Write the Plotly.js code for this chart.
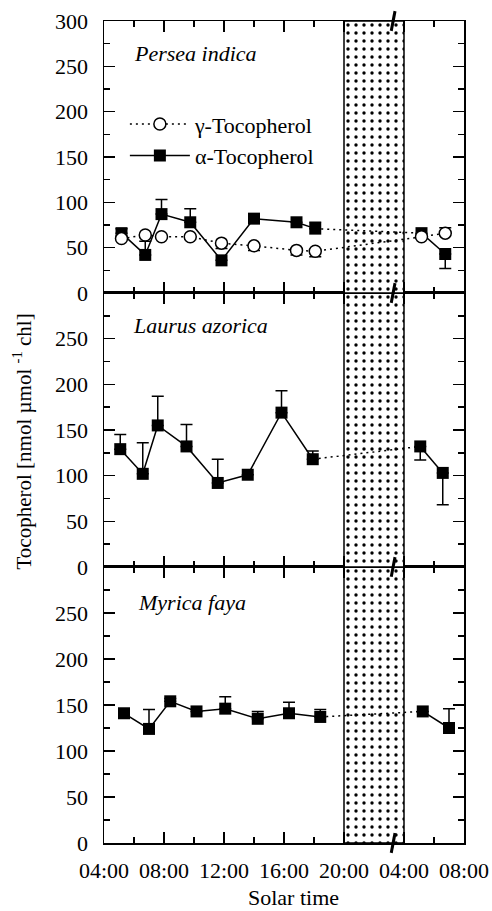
<!DOCTYPE html>
<html><head><meta charset="utf-8">
<script src="https://cdn.plot.ly/plotly-3.0.1.min.js"></script>
<style>html,body{margin:0;padding:0;background:#fff}</style>
</head><body><div id="chart" style="width:492px;height:911px"></div>
<script>
// ---------- data ----------
const xTickVals = [4, 8, 12, 16, 20, 24, 28];
const xTickText = ["04:00", "08:00", "12:00", "16:00", "20:00", "04:00", "08:00"];
const xMinorVals = [6, 10, 14, 18, 26];
const yTickVals = [0, 50, 100, 150, 200, 250, 300];
const yMinorVals = [25, 75, 125, 175, 225, 275];
const night = [20, 24];          // axis positions of 20:00 and the next 04:00
const speciesNames = ["Persea indica", "Laurus azorica", "Myrica faya"];

// Persea indica
const perseaTime = ["05:10","06:45","07:50","09:45","11:50","14:00","16:50","18:05","05:10","06:45"];
const perseaDay  = [1,1,1,1,1,1,1,1,2,2];
const perseaAlpha     = [66, 42, 87, 78, 36, 82, 78, 71, 66, 43];
const perseaAlphaUp   = [5, 15, 16, 15, 0, 0, 0, 7, 0, 0];
const perseaAlphaDown = [0, 0, 0, 0, 0, 0, 0, 0, 0, 16];
const perseaGamma     = [60, 64, 62, 62, 55, 52, 47, 46, 62, 66];
const perseaGammaUp   = [0, 0, 0, 0, 0, 0, 0, 0, 0, 6];
const perseaGammaDown = [0, 0, 0, 3, 6, 5, 5, 6, 0, 0];

// Laurus azorica
const laurusTime = ["05:05","06:35","07:35","09:30","11:35","13:35","15:50","17:55","05:05","06:35"];
const laurusDay  = [1,1,1,1,1,1,1,1,2,2];
const laurusAlpha     = [129, 102, 155, 132, 92, 101, 169, 118, 132, 103];
const laurusAlphaUp   = [16, 34, 32, 24, 26, 0, 24, 9, 0, 0];
const laurusAlphaDown = [0, 0, 0, 0, 0, 0, 0, 0, 15, 35];

// Myrica faya
const myricaTime = ["05:20","07:00","08:25","10:10","12:05","14:15","16:20","18:25","05:15","07:00"];
const myricaDay  = [1,1,1,1,1,1,1,1,2,2];
const myricaAlpha     = [141, 124, 154, 143, 146, 135, 141, 137, 143, 125];
const myricaAlphaUp   = [0, 21, 3, 0, 13, 8, 12, 8, 0, 21];
const myricaAlphaDown = [0, 0, 0, 0, 0, 0, 0, 0, 0, 0];

// ---------- helpers ----------
// broken time axis: day 1 hours map directly, night 20:00-04:00 compressed to 4 units
function toAxis(t, day) {
  const p = t.split(":").map(Number);
  const h = p[0] + p[1] / 60;
  return day === 1 ? h : h + 20;
}
function errArr(up, down) {
  const anyNonZero = up.some((v, i) => v || down[i]);
  return {type: "data", symmetric: false, array: up, arrayminus: down,
          color: "black", thickness: 1.5, width: 6, visible: anyNonZero};
}
function pick(arr, idx) { return idx.map(i => arr[i]); }

const FONT = "Liberation Serif, Times New Roman, serif";
const FS = 22;
const traces = [];

function addPanel(times, days, alpha, up, down, xa, ya, legend) {
  const x = times.map((t, i) => toAxis(t, days[i]));
  // night shading bar
  traces.push({
    type: "bar", x: [(night[0] + night[1]) / 2], y: [300], width: [night[1] - night[0]],
    xaxis: xa, yaxis: ya, showlegend: false, hoverinfo: "skip",
    marker: {color: "white", line: {color: "black", width: 1.5},
             pattern: {shape: ".", fgcolor: "black", bgcolor: "white", size: 8, solidity: 0.14}}
  });
  const d1 = days.map((d, i) => d === 1 ? i : -1).filter(i => i >= 0);
  const d2 = days.map((d, i) => d === 2 ? i : -1).filter(i => i >= 0);
  const last1 = d1[d1.length - 1], first2 = d2[0];
  // night connector (dotted)
  traces.push({
    type: "scatter", mode: "lines", x: [x[last1], x[first2]], y: [alpha[last1], alpha[first2]],
    xaxis: xa, yaxis: ya, showlegend: false, hoverinfo: "skip",
    line: {color: "black", width: 1.5, dash: "2px,4px"}
  });
  [d1, d2].forEach((idx, k) => {
    traces.push({
      type: "scatter", mode: "lines+markers", name: "\u03b1-Tocopherol",
      x: pick(x, idx), y: pick(alpha, idx), xaxis: xa, yaxis: ya,
      showlegend: legend && k === 0, legendrank: 2,
      line: {color: "black", width: 1.5},
      marker: {symbol: "square", size: 12, color: "black"},
      error_y: errArr(pick(up, idx), pick(down, idx))
    });
  });
  return x;
}

// Persea (top)
const px = addPanel(perseaTime, perseaDay, perseaAlpha, perseaAlphaUp, perseaAlphaDown, "x3", "y3", true);
traces.push({
  type: "scatter", mode: "lines+markers", name: "\u03b3-Tocopherol",
  x: px, y: perseaGamma, xaxis: "x3", yaxis: "y3", showlegend: true, legendrank: 1,
  line: {color: "black", width: 1.5, dash: "2px,4px"},
  marker: {symbol: "circle", size: 12, color: "white", line: {color: "black", width: 1.5}},
  error_y: errArr(perseaGammaUp, perseaGammaDown)
});
addPanel(laurusTime, laurusDay, laurusAlpha, laurusAlphaUp, laurusAlphaDown, "x2", "y2", false);
addPanel(myricaTime, myricaDay, myricaAlpha, myricaAlphaUp, myricaAlphaDown, "x", "y", false);

function xAxis(anchor, labels) {
  return {
    anchor: anchor, range: [4, 28], matches: anchor === "y" ? undefined : "x",
    tickmode: "array", tickvals: xTickVals, ticktext: xTickText, showticklabels: labels,
    ticks: "inside", ticklen: 11, tickwidth: 1.5, tickcolor: "black",
    minor: {tickmode: "array", tickvals: xMinorVals, ticks: "inside", ticklen: 6, tickwidth: 1.5, tickcolor: "black"},
    showline: true, linecolor: "black", linewidth: 1.5, mirror: "ticks",
    showgrid: false, zeroline: false, fixedrange: true, ticklabelstandoff: 7,
    tickfont: {family: FONT, size: FS, color: "black"}
  };
}
function yAxis(domain, anchor, vals) {
  return {
    domain: domain, anchor: anchor, range: [0, 300],
    tickmode: "array", tickvals: vals, ticks: "inside", ticklen: 11, tickwidth: 1.5, tickcolor: "black",
    minor: {tickmode: "array", tickvals: yMinorVals, ticks: "inside", ticklen: 6, tickwidth: 1.5, tickcolor: "black"},
    showline: true, linecolor: "black", linewidth: 1.5, mirror: "ticks",
    showgrid: false, zeroline: false, fixedrange: true, ticklabelstandoff: 10,
    tickfont: {family: FONT, size: FS, color: "black"}
  };
}

const b1 = 0.3358, b2 = 0.6691;
const shapes = [];
[1, b2, b1, 0].forEach(yb => {
  shapes.push({type: "line", xref: "x", yref: "paper", x0: 23.4, x1: 23.15,
               y0: yb + 0.012, y1: yb - 0.012, line: {color: "black", width: 3}});
});

const annotations = [
  {text: "<i>" + speciesNames[0] + "</i>", x: 0.078, y: 0.961},
  {text: "<i>" + speciesNames[1] + "</i>", x: 0.076, y: 0.630},
  {text: "<i>" + speciesNames[2] + "</i>", x: 0.09, y: 0.292}
].map(a => Object.assign(a, {xref: "paper", yref: "paper", xanchor: "left", yanchor: "middle",
     showarrow: false, font: {family: FONT, size: FS, color: "black"}}));
annotations.push({text: "Tocopherol [nmol \u00b5mol <sup>-1</sup> chl]", xref: "paper", yref: "paper",
  x: -0.226, y: 0.488, textangle: -90, showarrow: false, xanchor: "center", yanchor: "middle",
  font: {family: FONT, size: 21, color: "black"}});
annotations.push({text: "Solar time", xref: "paper", yref: "paper", x: 0.525, y: -0.066,
  showarrow: false, xanchor: "center", yanchor: "middle", font: {family: FONT, size: FS, color: "black"}});

const layout = {
  width: 492, height: 911,
  margin: {l: 104, r: 28, t: 21, b: 68},
  paper_bgcolor: "white", plot_bgcolor: "white",
  font: {family: FONT, size: FS, color: "black"},
  showlegend: true,
  legend: {x: 0.058, y: 0.9, xanchor: "left", yanchor: "top", bgcolor: "rgba(0,0,0,0)",
           itemwidth: 60, tracegroupgap: 0, font: {family: FONT, size: FS, color: "black"}},
  xaxis: xAxis("y", true), xaxis2: xAxis("y2", false), xaxis3: xAxis("y3", false),
  yaxis: yAxis([0, b1], "x", yTickVals.slice(0, 6)),
  yaxis2: yAxis([b1, b2], "x2", yTickVals.slice(0, 6)),
  yaxis3: yAxis([b2, 1], "x3", yTickVals),
  shapes: shapes, annotations: annotations, hovermode: false, barmode: "overlay"
};
Plotly.newPlot("chart", traces, layout, {staticPlot: true, displayModeBar: false});
</script></body></html>
